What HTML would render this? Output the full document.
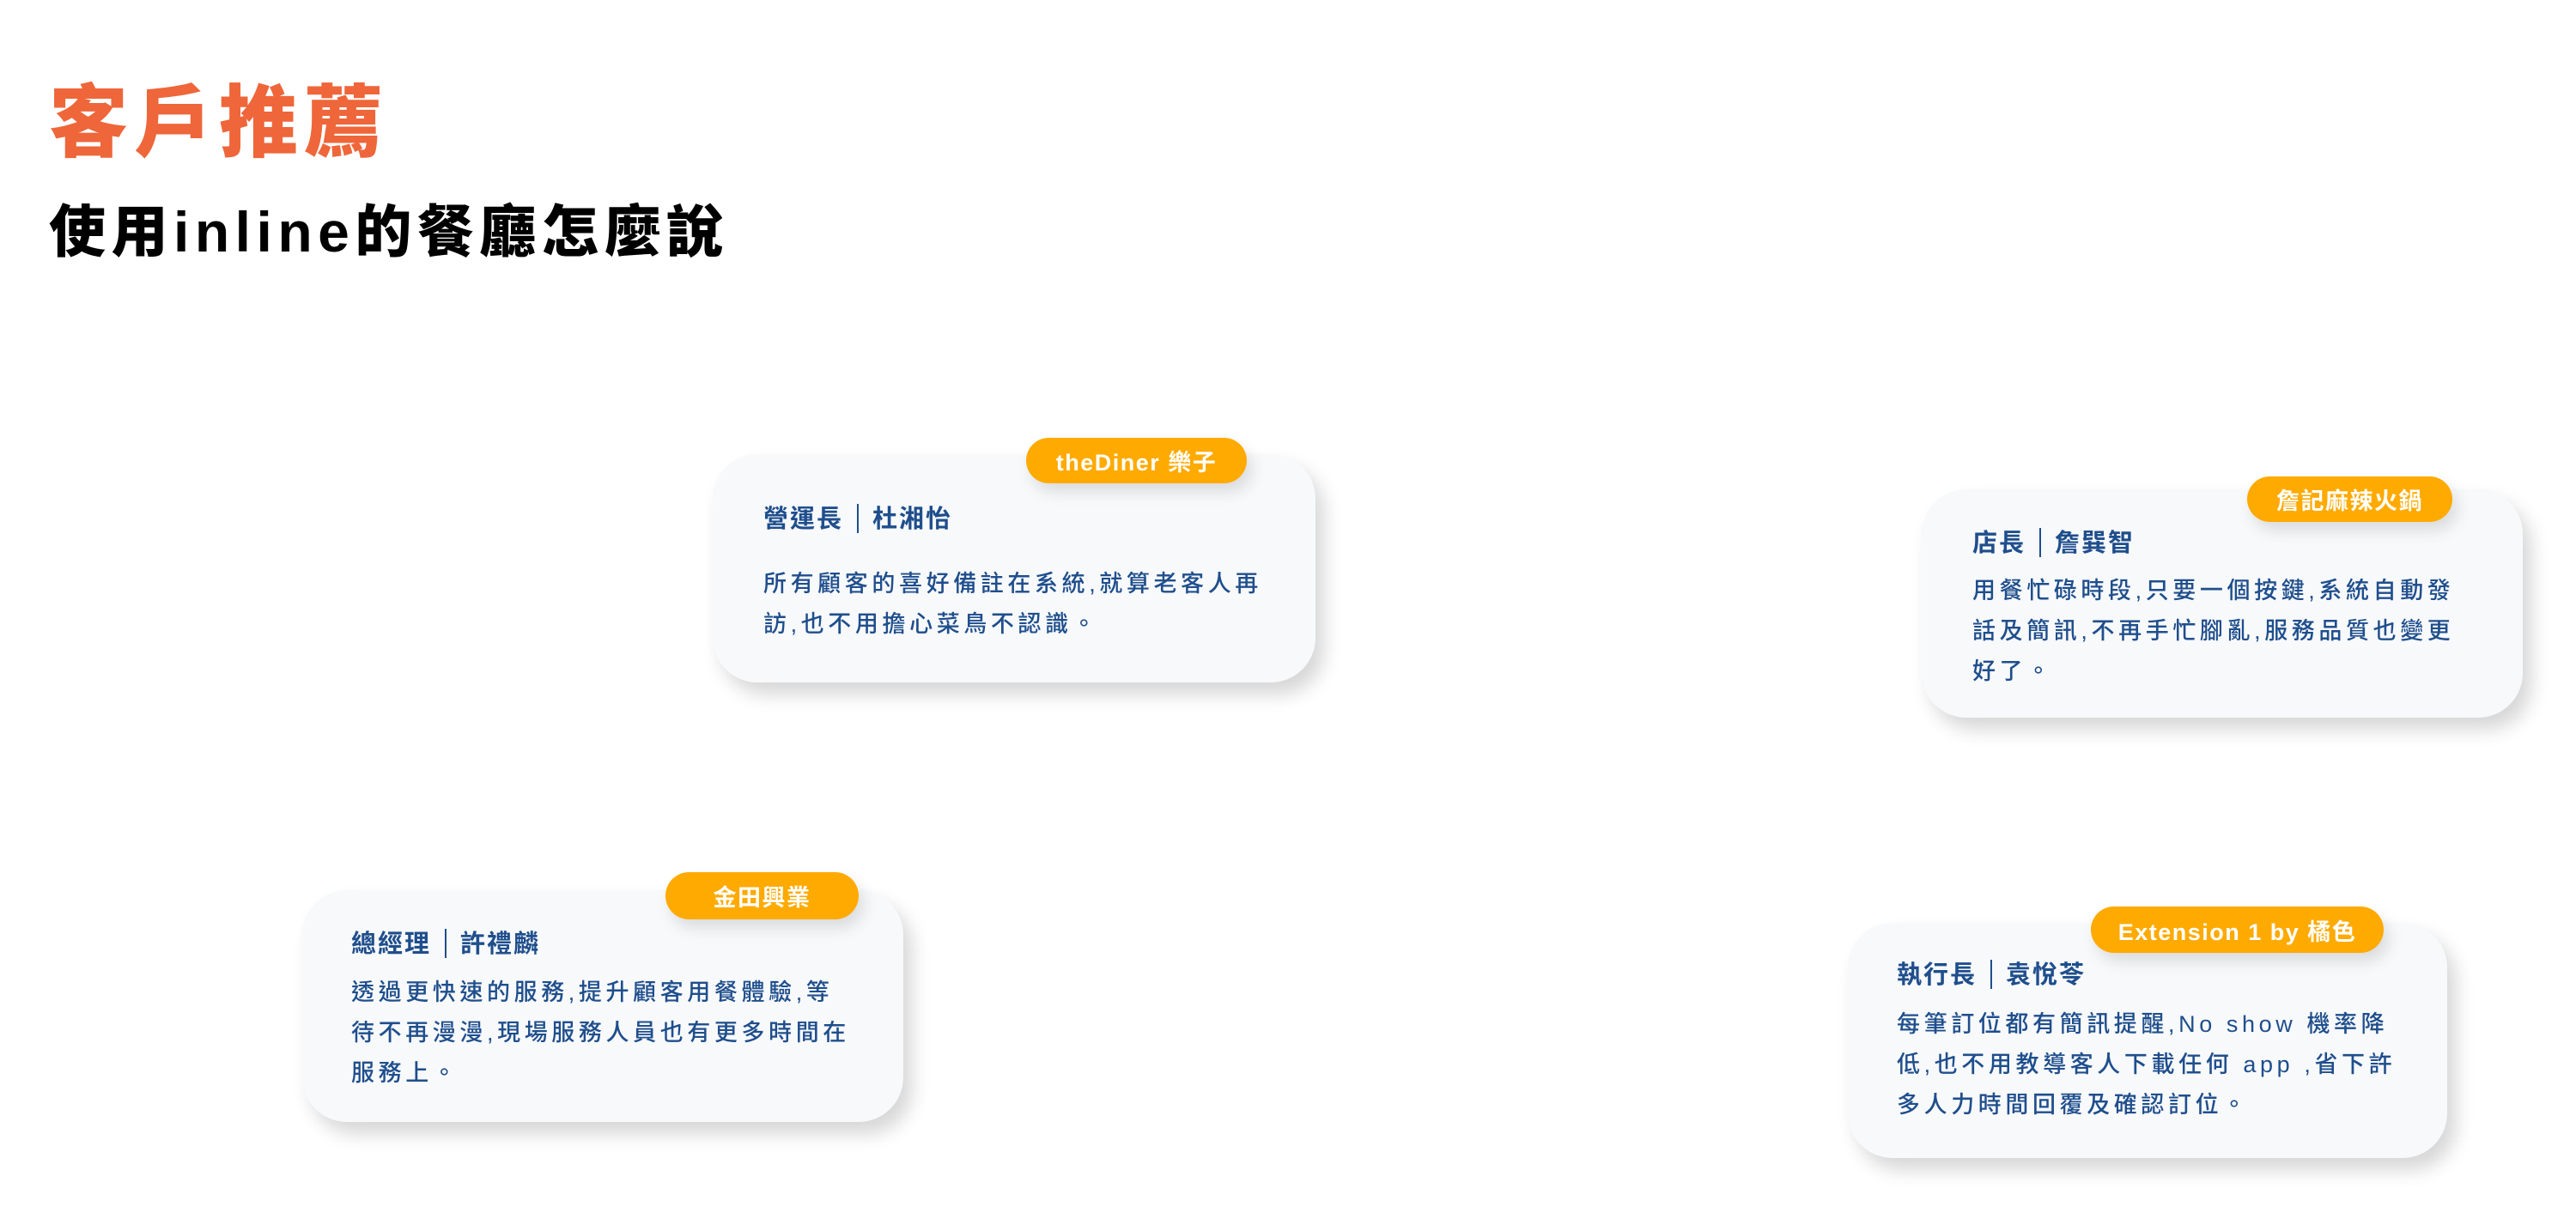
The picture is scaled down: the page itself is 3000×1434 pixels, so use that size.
<!DOCTYPE html>
<html><head><meta charset="utf-8">
<style>
body{margin:0;width:3000px;height:1434px;background:#fff;position:relative;overflow:hidden;font-family:"Liberation Sans","Noto Sans CJK TC",sans-serif;}
.a{position:absolute;}
.h1{left:57px;top:84px;font-size:92px;line-height:120px;font-weight:900;color:#EE663A;letter-spacing:7px;}
.h2{left:57px;top:230px;font-size:66px;line-height:80px;font-weight:900;color:#000;letter-spacing:6.5px;}
.card{position:absolute;background:#F7F9FB;border-radius:52px;box-shadow:10px 14px 22px rgba(0,0,0,0.16);}
.badge{position:absolute;background:#FFAA00;border-radius:28px;color:#fff;font-weight:700;font-size:27px;letter-spacing:1.5px;display:flex;align-items:center;justify-content:center;box-shadow:6px 10px 18px rgba(0,0,0,0.12);}
.t{position:absolute;color:#1F4E8C;font-weight:700;font-size:29px;line-height:40px;letter-spacing:2px;white-space:nowrap;}
.t span{display:inline-block;width:2px;height:34px;background:#1F4E8C;margin:0 16px;vertical-align:-7px;}
.b{position:absolute;color:#1F4E8C;font-size:27px;line-height:47px;letter-spacing:4.6px;white-space:nowrap;font-weight:500;}
</style></head><body>
<div class="a h1">客戶推薦</div>
<div class="a h2">使用inline的餐廳怎麼說</div>

<div class="card" style="left:830px;top:529px;width:702px;height:266px"></div>
<div class="badge" style="left:1195px;top:510px;width:257px;height:53px">theDiner 樂子</div>
<div class="t" style="left:889px;top:585px">營運長<span></span>杜湘怡</div>
<div class="b" style="left:889px;top:657px">所有顧客的喜好備註在系統,就算老客人再<br>訪,也不用擔心菜鳥不認識。</div>

<div class="card" style="left:2238px;top:570px;width:700px;height:266px"></div>
<div class="badge" style="left:2617px;top:555px;width:239px;height:53px">詹記麻辣火鍋</div>
<div class="t" style="left:2297px;top:613px">店長<span></span>詹巽智</div>
<div class="b" style="left:2297px;top:665px">用餐忙碌時段,只要一個按鍵,系統自動發<br>話及簡訊,不再手忙腳亂,服務品質也變更<br>好了。</div>

<div class="card" style="left:352px;top:1037px;width:700px;height:270px"></div>
<div class="badge" style="left:775px;top:1016px;width:225px;height:55px">金田興業</div>
<div class="t" style="left:409px;top:1080px">總經理<span></span>許禮麟</div>
<div class="b" style="left:409px;top:1133px">透過更快速的服務,提升顧客用餐體驗,等<br>待不再漫漫,現場服務人員也有更多時間在<br>服務上。</div>

<div class="card" style="left:2152px;top:1075px;width:698px;height:274px"></div>
<div class="badge" style="left:2435px;top:1056px;width:341px;height:54px">Extension 1 by 橘色</div>
<div class="t" style="left:2209px;top:1116px">執行長<span></span>袁悅苓</div>
<div class="b" style="left:2209px;top:1170px">每筆訂位都有簡訊提醒,No show  機率降<br>低,也不用教導客人下載任何 app ,省下許<br>多人力時間回覆及確認訂位。</div>
</body></html>
